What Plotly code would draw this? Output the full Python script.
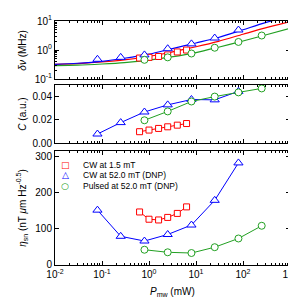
import plotly.graph_objects as go

# ---------------- data ----------------
P_cw15 = [0.63, 1.0, 1.6, 2.5, 4.0, 6.3]
P_cw52 = [0.08, 0.25, 0.8, 2.5, 8, 25, 80]
P_pulsed = [0.8, 2.5, 8, 25, 80, 250]

dnu_cw15 = [0.53, 0.56, 0.60, 0.68, 0.86, 1.0]
dnu_cw52 = [0.48, 0.56, 0.68, 1.11, 1.63, 2.59, 4.9]
dnu_pulsed = [0.46, 0.56, 0.76, 1.2, 1.9, 3.16]

C_cw15 = [0.0099, 0.0113, 0.0127, 0.0141, 0.0155, 0.0169]
C_cw52 = [0.0079, 0.0177, 0.0268, 0.0329, 0.0375, 0.0372, 0.0445]
C_pulsed = [0.0197, 0.0273, 0.0358, 0.0400, 0.0436, 0.0470]

eta_cw15 = [146, 126, 124, 131, 142, 160]
eta_cw52 = [151, 79, 66, 84, 110, 178, 281]
eta_pulsed = [42, 35, 33, 49, 73, 108]

# fitted linewidth curves
fit_P = [0.01, 0.03, 0.1, 0.3, 1, 3, 10, 30, 100, 300, 1000]
fit_cw15 = [0.32, 0.34, 0.39, 0.46, 0.60, 0.85, 1.3, 2.0, 3.5, 5.8, 9.5]
fit_cw52 = [0.32, 0.35, 0.41, 0.52, 0.72, 1.1, 1.75, 2.7, 5.0, 8.8, 15]
fit_pulsed = [0.29, 0.30, 0.33, 0.37, 0.45, 0.58, 0.82, 1.25, 2.05, 3.3, 5.6]

series_names = ["CW at 1.5 mT", "CW at 52.0 mT (DNP)", "Pulsed at 52.0 mT (DNP)"]

x_tickvals = [0.01, 0.1, 1, 10, 100, 1000]
x_ticktext = ["10<sup>-2</sup>", "10<sup>-1</sup>", "10<sup>0</sup>", "10<sup>1</sup>",
              "10<sup>2</sup>", "10<sup>3</sup>"]
y1_tickvals = [0.1, 1, 10]
y1_ticktext = ["10<sup>-1</sup>", "10<sup>0</sup>", "10<sup>1</sup>"]
y2_tickvals = [0, 0.02, 0.04]
y2_ticktext = ["0.00", "0.02", "0.04"]
y3_tickvals = [0, 100, 200, 300]

# ---------------- style ----------------
RED = "#ff0000"
BLUE = "#0000ff"
GREEN = "#22a022"
FONT = "Liberation Sans, Arial, sans-serif"

styles = [
    dict(color=RED, symbol="square", size=6),
    dict(color=BLUE, symbol="triangle-up", size=8),
    dict(color=GREEN, symbol="circle", size=7),
]

fig = go.Figure()

def add(x, y, st, xa, ya, mode="lines+markers", name=None):
    fig.add_trace(go.Scatter(
        x=x, y=y, mode=mode, name=name, showlegend=False,
        xaxis=xa, yaxis=ya,
        line=dict(color=st["color"], width=1),
        marker=dict(symbol=st["symbol"], size=st["size"], color="white",
                    line=dict(color=st["color"], width=1)),
    ))

# top panel: fits + markers
for P, f, st in [(fit_P, fit_cw15, styles[0]), (fit_P, fit_cw52, styles[1]),
                 (fit_P, fit_pulsed, styles[2])]:
    fig.add_trace(go.Scatter(x=P, y=f, mode="lines", showlegend=False,
                             xaxis="x", yaxis="y", line=dict(color=st["color"], width=1.2,
                                                             shape="spline", smoothing=0.8)))
for P, d, st, nm in [(P_cw15, dnu_cw15, styles[0], series_names[0]),
                     (P_cw52, dnu_cw52, styles[1], series_names[1]),
                     (P_pulsed, dnu_pulsed, styles[2], series_names[2])]:
    add(P, d, st, "x", "y", mode="markers", name=nm)

# middle panel
for P, d, st, nm in [(P_cw15, C_cw15, styles[0], series_names[0]),
                     (P_cw52, C_cw52, styles[1], series_names[1]),
                     (P_pulsed, C_pulsed, styles[2], series_names[2])]:
    add(P, d, st, "x2", "y2", name=nm)

# bottom panel
for P, d, st, nm in [(P_cw15, eta_cw15, styles[0], series_names[0]),
                     (P_cw52, eta_cw52, styles[1], series_names[1]),
                     (P_pulsed, eta_pulsed, styles[2], series_names[2])]:
    add(P, d, st, "x3", "y3", name=nm)

common = dict(showline=True, linecolor="black", linewidth=1, mirror="allticks",
              ticks="inside", ticklen=4, tickcolor="black", showgrid=False,
              zeroline=False, tickfont=dict(size=10, color="black", family=FONT))
minor_log = dict(ticks="inside", ticklen=2, tickcolor="black", showgrid=False, dtick="D1")

xcommon = dict(common, type="log", range=[-2, 3], tickmode="array",
               tickvals=x_tickvals, ticktext=x_ticktext, minor=minor_log)

fig.update_layout(
    width=296, height=297,
    margin=dict(l=47, r=9, t=6, b=40),
    paper_bgcolor="white", plot_bgcolor="white",
    font=dict(family=FONT, size=10, color="black"),
    showlegend=False,
    xaxis=dict(xcommon, anchor="y", showticklabels=False),
    xaxis2=dict(xcommon, anchor="y2", matches="x", showticklabels=False),
    xaxis3=dict(xcommon, anchor="y3", matches="x"),
    yaxis=dict(common, type="log", range=[-1, 1], domain=[0.762, 1.0],
               tickmode="array", tickvals=y1_tickvals, ticktext=y1_ticktext,
               minor=minor_log, anchor="x"),
    yaxis2=dict(common, range=[0, 0.05], domain=[0.499, 0.738],
                tickmode="array", tickvals=y2_tickvals, ticktext=y2_ticktext, anchor="x2"),
    yaxis3=dict(common, range=[0, 313], domain=[0.0, 0.466],
                tickmode="array", tickvals=y3_tickvals, anchor="x3"),
)

# axis titles
ytitles = [("y domain", "<i>δν</i> (MHz)"), ("y2 domain", "<i>C</i> (a.u.)"),
           ("y3 domain", "<i>η</i><sub>sn</sub> (nT <i>μ</i>m Hz<sup>-0.5</sup>)")]
for yref, txt in ytitles:
    fig.add_annotation(text=txt, xref="paper", yref=yref, x=-0.142, y=0.5,
                       textangle=-90, showarrow=False, xanchor="center", yanchor="middle",
                       font=dict(size=10, family=FONT, color="black"))
fig.add_annotation(text="<i>P</i><sub>mw</sub> (mW)", xref="paper", yref="paper",
                   x=0.5, y=-0.112, showarrow=False, xanchor="center", yanchor="middle",
                   font=dict(size=10, family=FONT, color="black"))

# legend (drawn as text lines with symbol glyphs)
leg_syms = ["□", "△", "○"]
leg_cols = [RED, BLUE, GREEN]
for i, (sym, col, nm) in enumerate(zip(leg_syms, leg_cols, series_names)):
    fig.add_annotation(
        text=f'<span style="color:{col};font-family:DejaVu Sans">{sym}</span>',
        xref="paper", yref="y3 domain", x=(57.7 - 47) / 240, y=1 - (14 + 10.6 * i) / 117,
        showarrow=False, xanchor="center", yanchor="middle", font=dict(size=9))
    fig.add_annotation(
        text=nm, xref="paper", yref="y3 domain", x=(74 - 47) / 240,
        y=1 - (14 + 10.6 * i) / 117, showarrow=False, xanchor="left", yanchor="middle",
        font=dict(size=8.5, family=FONT, color="black"))

fig.write_html("out.html")
